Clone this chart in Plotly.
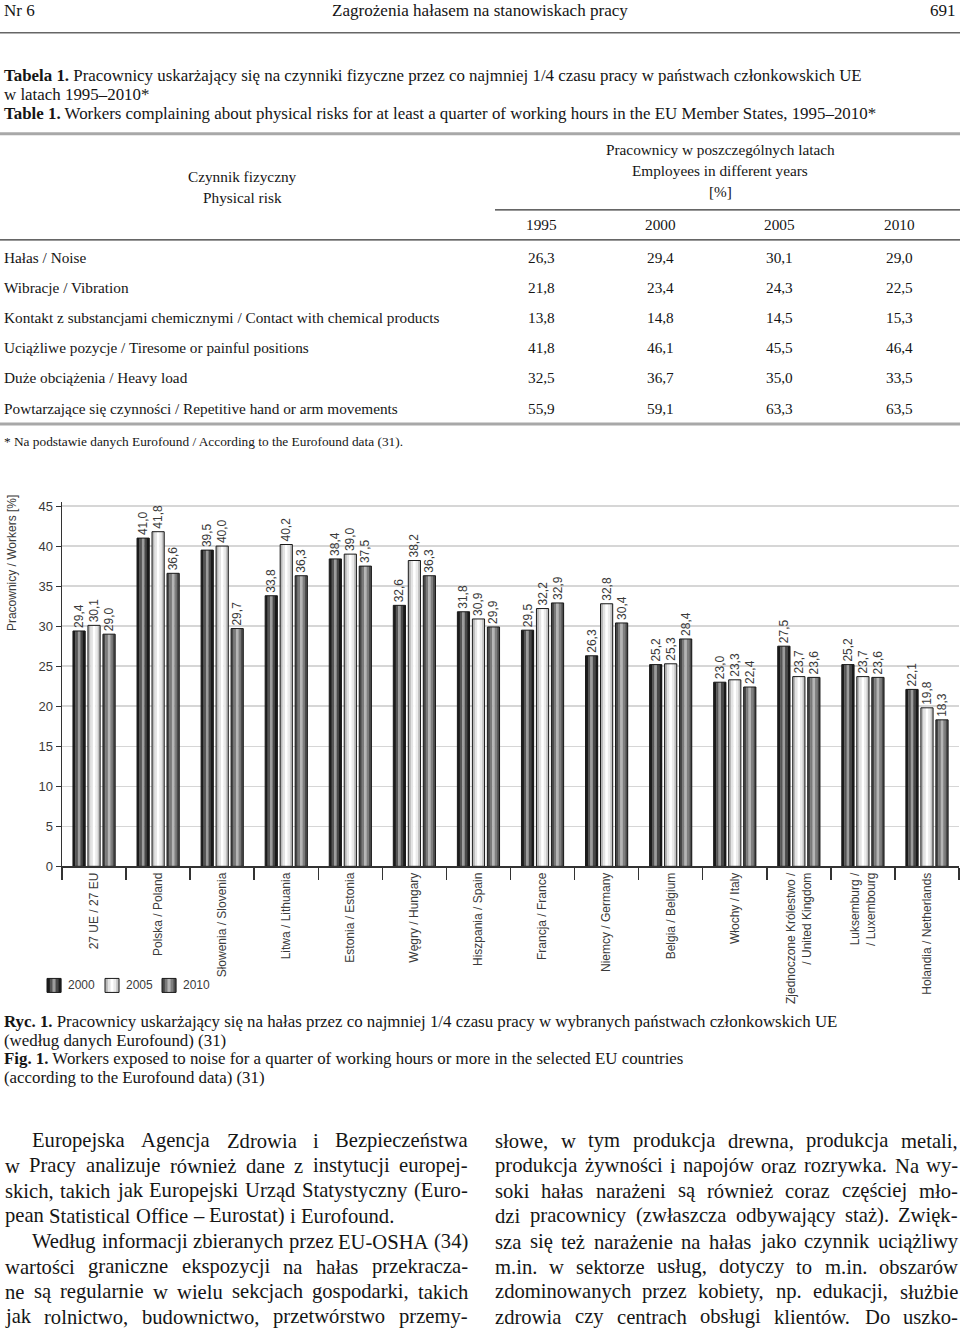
import plotly.graph_objects as go

W, H = 960, 1331
# empirical vertical calibration of the capture (rendered = 0.991*y + 3.3)
VS, VB = 0.991, 3.3
def px(x): return x / W
def py(y): return 1 - ((y - VB) / VS) / H

# ---------------- data ----------------
countries = ["27 UE / 27 EU", "Polska / Poland", "Słowenia / Slovenia", "Litwa / Lithuania",
             "Estonia / Estonia", "Węgry / Hungary", "Hiszpania / Spain", "Francja / France",
             "Niemcy / Germany", "Belgia / Belgium", "Włochy / Italy",
             "Zjednoczone Królestwo /<br>/ United Kingdom", "Luksemburg /<br>/ Luxembourg",
             "Holandia / Netherlands"]
years = ["2000", "2005", "2010"]
noise_2000 = [29.4, 41.0, 39.5, 33.8, 38.4, 32.6, 31.8, 29.5, 26.3, 25.2, 23.0, 27.5, 25.2, 22.1]
noise_2005 = [30.1, 41.8, 40.0, 40.2, 39.0, 38.2, 30.9, 32.2, 32.8, 25.3, 23.3, 23.7, 23.7, 19.8]
noise_2010 = [29.0, 36.6, 29.7, 36.3, 37.5, 36.3, 29.9, 32.9, 30.4, 28.4, 22.4, 23.6, 23.6, 18.3]
y_ticks = [0, 5, 10, 15, 20, 25, 30, 35, 40, 45]

table_years = ["1995", "2000", "2005", "2010"]
risk_labels = ["Hałas / Noise", "Wibracje / Vibration",
               "Kontakt z substancjami chemicznymi / Contact with chemical products",
               "Uciążliwe pozycje / Tiresome or painful positions",
               "Duże obciążenia / Heavy load",
               "Powtarzające się czynności / Repetitive hand or arm movements"]
risk_1995 = [26.3, 21.8, 13.8, 41.8, 32.5, 55.9]
risk_2000 = [29.4, 23.4, 14.8, 46.1, 36.7, 59.1]
risk_2005 = [30.1, 24.3, 14.5, 45.5, 35.0, 63.3]
risk_2010 = [29.0, 22.5, 15.3, 46.4, 33.5, 63.5]

# ---------------- fonts / metrics ----------------
SERIF = "Liberation Serif, Times New Roman, serif"
NARROW = "Liberation Sans Narrow, Arial Narrow, Liberation Sans, Arial, sans-serif"
INK = "#151515"
GREY_TXT = "#3a3a3a"

TW = {}
for ch, w in zip("abcdefghijklmnopqrstuvwxyz",
                 [444,500,444,500,444,333,500,500,278,278,500,278,778,500,500,500,500,333,389,278,500,500,722,500,500,444]):
    TW[ch] = w
for ch, w in zip("ABCDEFGHIJKLMNOPQRSTUVWXYZ",
                 [722,667,667,722,611,556,722,722,333,389,722,611,889,722,722,556,722,667,556,611,722,722,944,722,722,611]):
    TW[ch] = w
for ch in "0123456789":
    TW[ch] = 500
TW.update({" ": 250, ".": 250, ",": 250, "-": 333, "–": 500, "(": 333, ")": 333, "/": 278,
           "*": 500, "[": 333, "]": 333, "%": 833, ":": 278,
           "ą": 444, "ć": 444, "ę": 444, "ł": 278, "ń": 500, "ó": 500, "ś": 389, "ź": 444, "ż": 444,
           "Ł": 611, "Ś": 556, "Ż": 611, "Ź": 611, "Ć": 667})

def em(text):
    total, bold, i = 0.0, False, 0
    while i < len(text):
        if text.startswith("<b>", i):
            bold = True; i += 3; continue
        if text.startswith("</b>", i):
            bold = False; i += 4; continue
        w = TW.get(text[i], 500) / 1000.0
        total += w * (1.07 if bold else 1.0)
        i += 1
    return total

def fit(text, width_px):
    return width_px / em(text)

annotations = []
shapes = []

def txt(x, y, s, size, anchor="left", family=SERIF, color=INK, angle=0):
    annotations.append(dict(x=px(x), y=py(y), xref="paper", yref="paper", text=s,
                            showarrow=False, xanchor=anchor, yanchor="middle", textangle=angle,
                            font=dict(family=family, size=size, color=color), borderpad=0))

def hline(x0, x1, y, color, width):
    shapes.append(dict(type="line", xref="paper", yref="paper", x0=px(x0), x1=px(x1),
                       y0=py(y), y1=py(y), line=dict(color=color, width=width)))

def fmt(v):
    return f"{v:.1f}".replace(".", ",")

# ---------------- page header ----------------
head_title = "Zagrożenia hałasem na stanowiskach pracy"
fs_head = fit(head_title, 296)
txt(3, 11, "Nr 6", fs_head)
txt(480, 11, head_title, fs_head, anchor="center")
txt(957, 11, "691", fs_head, anchor="right")
hline(0, 960, 33, "#666666", 1.6)

# ---------------- table ----------------
t1 = "<b>Tabela 1.</b> Pracownicy uskarżający się na czynniki fizyczne przez co najmniej 1/4 czasu pracy w państwach członkowskich UE"
t2 = "w latach 1995–2010*"
t3 = "<b>Table 1.</b> Workers complaining about physical risks for at least a quarter of working hours in the EU Member States, 1995–2010*"
fs_title = fit(t3, 877)
txt(3, 76, t1, fs_title)
txt(3, 95, t2, fs_title)
txt(3, 114, t3, fs_title)

fs_tab = fit(risk_labels[2], 436)
hline(0, 960, 134, "#a8a8a8", 3)
txt(242, 177, "Czynnik fizyczny", fs_tab, anchor="center")
txt(242, 198, "Physical risk", fs_tab, anchor="center")
txt(720, 150, "Pracownicy w poszczególnych latach", fs_tab, anchor="center")
txt(720, 171, "Employees in different years", fs_tab, anchor="center")
txt(720, 192, "[%]", fs_tab, anchor="center")
hline(495, 960, 210, "#333333", 1.3)
col_x = [541, 660, 779, 899]
for cx, yr in zip(col_x, table_years):
    txt(cx, 225, yr, fs_tab, anchor="center")
hline(0, 960, 240, "#333333", 1.3)
row_y = [258, 288, 318, 348, 378, 408]
for i, lab in enumerate(risk_labels):
    txt(3, row_y[i], lab, fs_tab)
    for cx, arr in zip(col_x, [risk_1995, risk_2000, risk_2005, risk_2010]):
        txt(cx, row_y[i], fmt(arr[i]), fs_tab, anchor="center")
hline(0, 960, 424, "#a8a8a8", 3)
foot = "* Na podstawie danych Eurofound / According to the Eurofound data (31)."
txt(3, 441, foot, fit(foot, 400))

# ---------------- chart ----------------
fig = go.Figure()
xs = list(range(len(countries)))
bw = 0.19
centers = [-0.234, 0.0, 0.234]
strip_colors = [
    ["#1c1c1c", "#555555", "#9c9c9c", "#484848", "#1a1a1a"],
    ["#b8b8b8", "#e4e4e4", "#ffffff", "#ebebeb", "#c2c2c2"],
    ["#474747", "#7a7a7a", "#b5b5b5", "#7f7f7f", "#4d4d4d"],
]
series = [noise_2000, noise_2005, noise_2010]
ns = 5
for si, vals in enumerate(series):
    c = centers[si]
    for k in range(ns):
        fig.add_trace(go.Bar(x=xs, y=vals, width=bw / ns + 0.004, offset=c - bw / 2 + k * bw / ns,
                             marker=dict(color=strip_colors[si][k], line=dict(width=0)),
                             hoverinfo="skip", showlegend=False))
    fig.add_trace(go.Bar(x=xs, y=vals, width=bw, offset=c - bw / 2, name=years[si],
                         marker=dict(color="rgba(0,0,0,0)", line=dict(color="#1a1a1a", width=1)),
                         texttemplate="%{y:.1f}", textposition="outside", textangle=-90,
                         constraintext="none", cliponaxis=False,
                         textfont=dict(family=NARROW, size=12, color=GREY_TXT),
                         showlegend=False))

# legend (manual swatches)
leg_x = [47, 105, 162]
for si, yr in enumerate(years):
    x0 = leg_x[si]
    for k in range(ns):
        shapes.append(dict(type="rect", xref="paper", yref="paper",
                           x0=px(x0 + k * 14 / ns), x1=px(x0 + (k + 1) * 14 / ns + 0.3),
                           y0=py(992), y1=py(978), fillcolor=strip_colors[si][k], line=dict(width=0)))
    shapes.append(dict(type="rect", xref="paper", yref="paper", x0=px(x0), x1=px(x0 + 14),
                       y0=py(992), y1=py(978), fillcolor="rgba(0,0,0,0)",
                       line=dict(color="#1a1a1a", width=1)))
    txt(x0 + 20, 985, yr, 12, family=NARROW, color=GREY_TXT)

# y title
txt(12, 563, "Pracownicy / Workers [%]", 12, anchor="center", family=NARROW, color=GREY_TXT, angle=-90)

# ---------------- caption ----------------
c1 = "<b>Ryc. 1.</b> Pracownicy uskarżający się na hałas przez co najmniej 1/4 czasu pracy w wybranych państwach członkowskich UE"
c2 = "(według danych Eurofound) (31)"
c3 = "<b>Fig. 1.</b> Workers exposed to noise for a quarter of working hours or more in the selected EU countries"
c4 = "(according to the Eurofound data) (31)"
fs_cap = fit(c1, 837)
txt(3, 1021, c1, fs_cap)
txt(3, 1040, c2, fs_cap)
txt(3, 1058, c3, fs_cap)
txt(3, 1077, c4, fs_cap)

# ---------------- body text (justified) ----------------
left_lines = [
    ("Europejska Agencja Zdrowia i Bezpieczeństwa", True, True),
    ("w Pracy analizuje również dane z instytucji europej-", False, True),
    ("skich, takich jak Europejski Urząd Statystyczny (Euro-", False, True),
    ("pean Statistical Office – Eurostat) i Eurofound.", False, False),
    ("Według informacji zbieranych przez EU-OSHA (34)", True, True),
    ("wartości graniczne ekspozycji na hałas przekracza-", False, True),
    ("ne są regularnie w wielu sekcjach gospodarki, takich", False, True),
    ("jak rolnictwo, budownictwo, przetwórstwo przemy-", False, True),
]
right_lines = [
    ("słowe, w tym produkcja drewna, produkcja metali,", False, True),
    ("produkcja żywności i napojów oraz rozrywka. Na wy-", False, True),
    ("soki hałas narażeni są również coraz częściej mło-", False, True),
    ("dzi pracownicy (zwłaszcza odbywający staż). Zwięk-", False, True),
    ("sza się też narażenie na hałas jako czynnik uciążliwy", False, True),
    ("m.in. w sektorze usług, dotyczy to m.in. obszarów", False, True),
    ("zdominowanych przez kobiety, np. edukacji, służbie", False, True),
    ("zdrowia czy centrach obsługi klientów. Do uszko-", False, True),
]
fs_body = fit(left_lines[3][0], 389)
body_y = [1140, 1165, 1190, 1215, 1241, 1266, 1291, 1316]
indent = 27

def body_column(lines, x0, x1):
    for li, (line, ind, just) in enumerate(lines):
        words = line.split(" ")
        start = x0 + (indent if ind else 0)
        widths = [em(w) * fs_body for w in words]
        if just and len(words) > 1:
            gap = (x1 - start - sum(widths)) / (len(words) - 1)
        else:
            gap = em(" ") * fs_body
        x = start
        for w, wd in zip(words, widths):
            txt(x, body_y[li], w, fs_body)
            x += wd + gap

body_column(left_lines, 4, 467)
body_column(right_lines, 494, 957)

# ---------------- layout ----------------
fig.update_layout(
    width=W, height=H, margin=dict(l=0, r=0, t=0, b=0),
    paper_bgcolor="white", plot_bgcolor="white",
    barmode="overlay", showlegend=False, separators=", ",
    annotations=annotations, shapes=shapes,
    xaxis=dict(domain=[px(62), px(959)], range=[-0.5, len(countries) - 0.5],
               tickmode="array", tickvals=xs, ticktext=countries, tickangle=-90,
               ticks="", showgrid=False, zeroline=False, showline=True,
               linecolor="#333333", linewidth=1.5,
               tickfont=dict(family=NARROW, size=12, color=GREY_TXT),
               minor=dict(tickmode="array", tickvals=[i - 0.5 for i in range(len(countries) + 1)],
                          ticks="outside", ticklen=12, tickcolor="#333333", tickwidth=1.5,
                          showgrid=False),
               fixedrange=True),
    yaxis=dict(domain=[py(866), py(502)], range=[0, 45.5], tickmode="array", tickvals=y_ticks,
               ticks="outside", ticklen=5, tickcolor="#333333", tickwidth=1,
               showgrid=True, gridcolor="#d6d6d6", gridwidth=1.5, zeroline=False,
               showline=True, linecolor="#333333", linewidth=1.5,
               tickfont=dict(family=NARROW, size=13, color=GREY_TXT), fixedrange=True),
)

fig.write_html(
    "out.html",
    config={"displayModeBar": False, "staticPlot": True},
    post_script=("document.body.style.margin='0px';"
                 "document.body.style.overflow='hidden';"
                 "document.documentElement.style.overflow='hidden';"),
)
